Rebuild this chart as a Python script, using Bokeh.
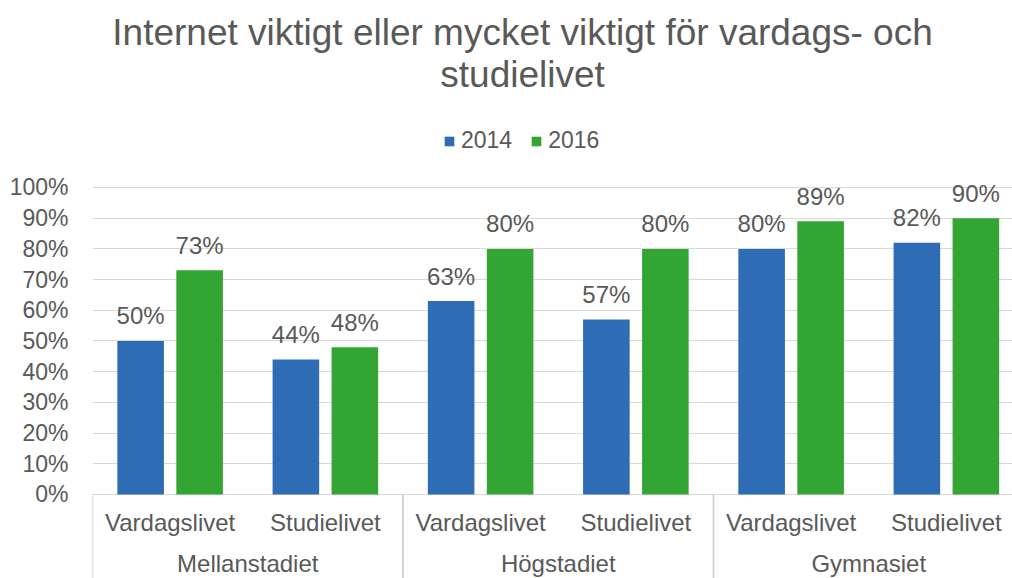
from bokeh.plotting import figure
from bokeh.models import (Range1d, FixedTicker, NumeralTickFormatter,
                          Legend, LegendItem, ColumnDataSource)
from bokeh.embed import file_html
from bokeh.resources import INLINE
from bokeh.core.properties import value

# ---- data ----
groups = ["Mellanstadiet", "Högstadiet", "Gymnasiet"]
subcats = ["Vardagslivet", "Studielivet"]
years = ["2014", "2016"]
values_2014 = [0.50, 0.44, 0.63, 0.57, 0.80, 0.82]
values_2016 = [0.73, 0.48, 0.80, 0.80, 0.89, 0.90]
title_lines = ["Internet viktigt eller mycket viktigt för vardags- och", "studielivet"]
y_ticks = [i / 10 for i in range(11)]

FONT = "Liberation Sans"
TXT = "#595959"
BLUE = "#2E6DB5"
GREEN = "#33A532"
GRID = "#D9D9D9"
SEP = "#C8C8C8"

W, H = 1012, 578
n = len(groups) * len(subcats)
centers = [i + 0.5 for i in range(n)]
sub_labels = [subcats[i % len(subcats)] for i in range(n)]
offset = 0.19
bw = 0.30
Y_SUB = -0.0912
Y_GRP = -0.2248
Y_MIN = -0.2736
Y_MAX = 1.609
TITLE_X = 2.770
TITLE_Y = [1.5049, 1.3681]

src14 = ColumnDataSource(dict(x=[c - offset for c in centers], top=values_2014,
                              lab=[f"{round(v*100)}%" for v in values_2014]))
src16 = ColumnDataSource(dict(x=[c + offset for c in centers], top=values_2016,
                              lab=[f"{round(v*100)}%" for v in values_2016]))
src_sub = ColumnDataSource(dict(x=centers, y=[Y_SUB] * n, t=sub_labels))
gcent = [len(subcats) * (g + 0.5) for g in range(len(groups))]
src_grp = ColumnDataSource(dict(x=gcent, y=[Y_GRP] * len(groups), t=groups))
seps = [len(subcats) * g for g in range(len(groups))]
src_sep = ColumnDataSource(dict(x=seps, y0=[0] * len(seps), y1=[Y_MIN] * len(seps)))
src_title = ColumnDataSource(dict(x=[TITLE_X] * 2, y=TITLE_Y, t=title_lines))

p = figure(width=W, height=H, output_backend="svg", toolbar_location=None,
           x_range=Range1d(0, 5.926), y_range=Range1d(Y_MIN, Y_MAX),
           min_border_left=92, min_border_right=0, min_border_top=0, min_border_bottom=0,
           x_axis_location=None)
p.outline_line_color = None
p.background_fill_color = "white"
p.border_fill_color = "white"

# title
p.text(x="x", y="y", text="t", source=src_title, text_align="center", text_baseline="middle",
       text_font=value(FONT), text_font_size="37px", text_color=TXT)

r14 = p.vbar(x="x", top="top", width=bw, bottom=0, source=src14, fill_color=BLUE, line_color=None)
r16 = p.vbar(x="x", top="top", width=bw, bottom=0, source=src16, fill_color=GREEN, line_color=None)

for s in (src14, src16):
    p.text(x="x", y="top", text="lab", source=s, text_align="center", text_baseline="middle",
           y_offset=-25, text_font=value(FONT), text_font_size="24px", text_color=TXT)

# category labels below the baseline
p.text(x="x", y="y", text="t", source=src_sub, text_align="center", text_baseline="middle",
       text_font=value(FONT), text_font_size="24px", text_color=TXT)
p.text(x="x", y="y", text="t", source=src_grp, text_align="center", text_baseline="middle",
       text_font=value(FONT), text_font_size="24px", text_color=TXT)
p.segment(x0="x", y0="y0", x1="x", y1="y1", source=src_sep, line_color=SEP, line_width=1.5)

# y axis
p.yaxis.ticker = FixedTicker(ticks=y_ticks)
p.yaxis.formatter = NumeralTickFormatter(format="0%")
p.yaxis.axis_line_color = None
p.yaxis.major_tick_line_color = None
p.yaxis.minor_tick_line_color = None
p.yaxis.major_label_standoff = 18
p.yaxis.major_label_text_font = FONT
p.yaxis.major_label_text_font_size = "23px"
p.yaxis.major_label_text_color = TXT
p.ygrid.grid_line_color = GRID
p.ygrid.ticker = FixedTicker(ticks=y_ticks)
p.xgrid.grid_line_color = None

legend = Legend(items=[LegendItem(label=years[0], renderers=[r14]),
                       LegendItem(label=years[1], renderers=[r16])],
                orientation="horizontal", location=(351, 424),
                label_text_font=FONT, label_text_font_size="23px", label_text_color=TXT,
                glyph_width=12, glyph_height=12, label_standoff=6, spacing=18,
                padding=0, margin=0, border_line_color=None, background_fill_alpha=0)
p.add_layout(legend, "center")

open("out.html", "w").write(file_html(p, INLINE))
